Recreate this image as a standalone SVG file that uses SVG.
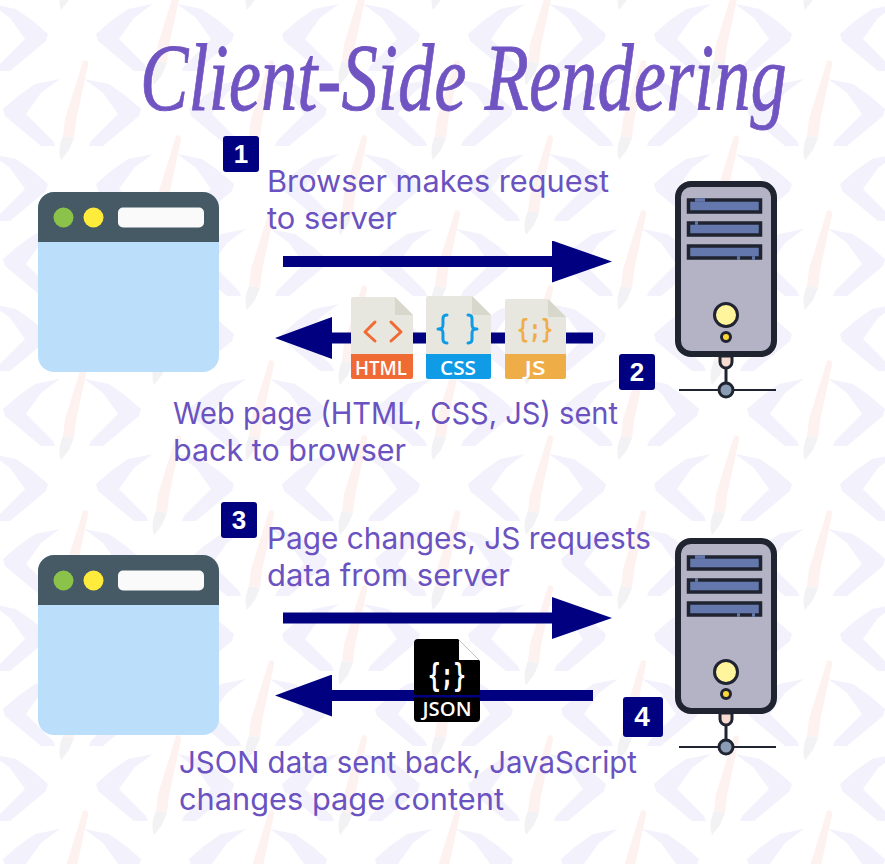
<svg xmlns="http://www.w3.org/2000/svg" xmlns:xlink="http://www.w3.org/1999/xlink" width="885" height="864" viewBox="0 0 885 864">
<style>
.t{font-family:"Inter","Liberation Sans",sans-serif;font-size:30px;fill:#6a52c1;font-weight:400}
.b{fill:#000080}
.n{font-family:"Liberation Sans",sans-serif;font-weight:700;font-size:26px;fill:#fff;text-anchor:middle}
.a{stroke:#000080;stroke-width:11;fill:none}
.r{marker-end:url(#head)}
.l{marker-end:url(#headl)}
.lab{font-family:"Open Sans","Liberation Sans",sans-serif;font-size:20px;font-weight:600;fill:#fff;text-anchor:middle}
.sym{font-family:"DejaVu Sans Mono","Liberation Mono",monospace;font-weight:700;text-anchor:middle}
.paper{fill:#e8e7df}.fold{fill:#d8d7cb}
.st{stroke:#1f2430;stroke-width:3}
.slot{fill:#6478ae;stroke:#1f2430;stroke-width:3.5}
.g{fill:none;stroke-width:3;stroke-linecap:round;stroke-linejoin:round}
</style>
<defs>
<marker id="head" markerUnits="userSpaceOnUse" markerWidth="60" markerHeight="42" viewBox="0 0 60 42" refX="0" refY="21" orient="auto"><path d="M0 0L60 21L0 42Z" fill="#000080"/></marker>
<marker id="headl" markerUnits="userSpaceOnUse" markerWidth="57" markerHeight="42" viewBox="0 0 57 42" refX="0" refY="21" orient="auto"><path d="M0 0L57 21L0 42Z" fill="#000080"/></marker>
<path id="arm" d="M-69 -4L-54 -17L-37 -29L-12 -34L-19 -29L-31 -20L-46 1L-19 28L-17 33L-31 33L-67 3Z" fill="#f3f1fb"/>
<g id="logo">
<use xlink:href="#arm" href="#arm"/>
<use xlink:href="#arm" href="#arm" transform="scale(-1 1)"/>
<path d="M11 -52C14 -54 17 -52 16 -48L4 8L2 25L-9 23L-7 6Z" fill="#fef2f1"/>
<path d="M-9 23L2 25L-3 37L-11 47C-14 38 -12 30 -9 23Z" fill="#f2f2f4"/>
</g>
<pattern id="bg" patternUnits="userSpaceOnUse" width="186" height="150">
<use xlink:href="#logo" href="#logo" x="165" y="38"/>
<use xlink:href="#logo" href="#logo" x="-21" y="38"/>
<use xlink:href="#logo" href="#logo" x="165" y="188"/>
<use xlink:href="#logo" href="#logo" x="-21" y="188"/>
<use xlink:href="#logo" href="#logo" x="72" y="113"/>
<use xlink:href="#logo" href="#logo" x="72" y="-37"/>
</pattern>
<g id="browser">
<rect x="38" y="192" width="181" height="180" rx="16" fill="#bbdefb"/>
<path d="M38 242V208a16 16 0 0 1 16-16H203a16 16 0 0 1 16 16V242Z" fill="#455a64"/>
<circle cx="63.500" cy="217.500" r="10" fill="#8bc34a"/>
<circle cx="93.500" cy="217.500" r="10" fill="#ffeb3b"/>
<rect x="118" y="207.500" width="86" height="20" rx="5" fill="#fafafa"/>
</g>
<g id="server">
<rect x="678" y="184" width="96" height="170" rx="13" fill="#b3b3c5" stroke="#1f2430" stroke-width="6"/>
<rect x="688.500" y="200" width="72" height="12" class="slot"/>
<rect x="688.500" y="223" width="72" height="12" class="slot"/>
<rect x="688.500" y="246" width="72" height="12" class="slot"/>
<path d="M695 200H705M695 223H698M737 258H740M752 258H755" stroke="#6478ae" stroke-width="3.500"/>
<circle cx="726" cy="315" r="11.500" fill="#fff59d" class="st"/>
<circle cx="726" cy="337" r="4.500" fill="#fdd835" class="st"/>
<path d="M720 356V362a6 6 0 0 0 6 6a6 6 0 0 0 6-6V356Z" fill="#f8dcd2" class="st"/>
<path d="M726 368V384" fill="none" class="st"/>
<path d="M679 390H776" fill="none" stroke="#1f2430" stroke-width="2"/>
<circle cx="726" cy="390" r="7" fill="#8a9db5" class="st"/>
</g>
</defs>
<rect width="885" height="864" fill="#fff"/>
<rect width="885" height="864" fill="url(#bg)"/>

<text id="title" transform="translate(140 110) scale(0.756 1)" x="0" y="0" font-family="Liberation Serif, serif" font-style="italic" font-size="96" fill="#7054c2" stroke="#7054c2" stroke-width="0.800">Client-Side Rendering</text>

<g id="connectors">
<path class="a r" d="M283 261.500H552"/>
<path class="a l" d="M593 338H332"/>
<path class="a r" d="M283 618H552"/>
<path class="a l" d="M593 695.500H332"/>
</g>

<g id="browser-1"><use xlink:href="#browser" href="#browser"/></g>
<g id="browser-2"><use xlink:href="#browser" href="#browser" y="363"/></g>
<g id="server-1"><use xlink:href="#server" href="#server"/></g>
<g id="server-2"><use xlink:href="#server" href="#server" y="357"/></g>

<g id="file-html">
<path class="paper" d="M351 299a2 2 0 0 1 2-2H395L413 315V354H351Z"/>
<path class="fold" d="M395 297L413 315H395Z"/>
<path d="M351 354H413V377a2 2 0 0 1-2 2H353a2 2 0 0 1-2-2Z" fill="#f06a33"/>
<path class="g" stroke="#f06a33" d="M375 322L365 332L375 341M391 322L401 332L391 341"/>
<text class="lab" x="381" y="375" textLength="52" lengthAdjust="spacingAndGlyphs">HTML</text>
</g>
<g id="file-css">
<path class="paper" d="M426 298a2 2 0 0 1 2-2H472L491 315V354H426Z"/>
<path class="fold" d="M472 296L491 315H472Z"/>
<path d="M426 354H491V377a2 2 0 0 1-2 2H428a2 2 0 0 1-2-2Z" fill="#0f9be6"/>
<path class="g" stroke="#0f9be6" d="M447 315C442 315 443 319 443 323C443 327 443 329 438 329C443 329 443 331 443 335C443 339 442 343 447 343M468 315C473 315 472 319 472 323C472 327 472 329 477 329C472 329 472 331 472 335C472 339 473 343 468 343"/>
<text class="lab" x="458" y="375" textLength="36" lengthAdjust="spacingAndGlyphs">CSS</text>
</g>
<g id="file-js">
<path class="paper" d="M505 301a2 2 0 0 1 2-2H548L566 317V354H505Z"/>
<path class="fold" d="M548 299L566 317H548Z"/>
<path d="M505 354H566V377a2 2 0 0 1-2 2H507a2 2 0 0 1-2-2Z" fill="#efad47"/>
<text class="sym" x="535" y="338" font-size="26" fill="#efad47" textLength="36" lengthAdjust="spacingAndGlyphs">{;}</text>
<text class="lab" x="535" y="375" textLength="21" lengthAdjust="spacingAndGlyphs">JS</text>
</g>
<g id="file-json">
<path d="M414 643a4 4 0 0 1 4-4H458L480 661V718a4 4 0 0 1-4 4H418a4 4 0 0 1-4-4Z" fill="#000"/>
<path d="M459 640L479 660H459Z" fill="#fff"/>
<rect x="414" y="695" width="66" height="2.500" fill="#000080"/>
<text class="sym" x="447" y="686" font-size="32" fill="#fff" textLength="38" lengthAdjust="spacingAndGlyphs">{;}</text>
<text class="lab" x="447" y="716" textLength="49" lengthAdjust="spacingAndGlyphs">JSON</text>
</g>

<g id="badge-1"><rect class="b" x="223" y="136" width="36" height="36" rx="3"/><text class="n" x="241" y="163">1</text></g>
<g id="badge-2"><rect class="b" x="619" y="354" width="36" height="36" rx="3"/><text class="n" x="637" y="381">2</text></g>
<g id="badge-3"><rect class="b" x="221" y="502" width="36" height="36" rx="3"/><text class="n" x="239" y="529">3</text></g>
<g id="badge-4"><rect class="b" x="623" y="697" width="40" height="40" rx="3"/><text class="n" x="642" y="726" style="font-size:28px">4</text></g>

<g id="labels">
<text class="t" x="267" y="192" textLength="342" lengthAdjust="spacingAndGlyphs">Browser makes request</text>
<text class="t" x="267" y="229" textLength="130" lengthAdjust="spacingAndGlyphs">to server</text>
<text class="t" x="173" y="424" textLength="445" lengthAdjust="spacingAndGlyphs">Web page (HTML, CSS, JS) sent</text>
<text class="t" x="173" y="461" textLength="233" lengthAdjust="spacingAndGlyphs">back to browser</text>
<text class="t" x="267" y="549" textLength="384" lengthAdjust="spacingAndGlyphs">Page changes, JS requests</text>
<text class="t" x="267" y="586" textLength="243" lengthAdjust="spacingAndGlyphs">data from server</text>
<text class="t" x="179" y="773" textLength="458" lengthAdjust="spacingAndGlyphs">JSON data sent back, JavaScript</text>
<text class="t" x="179" y="810" textLength="325" lengthAdjust="spacingAndGlyphs">changes page content</text>
</g>
</svg>
